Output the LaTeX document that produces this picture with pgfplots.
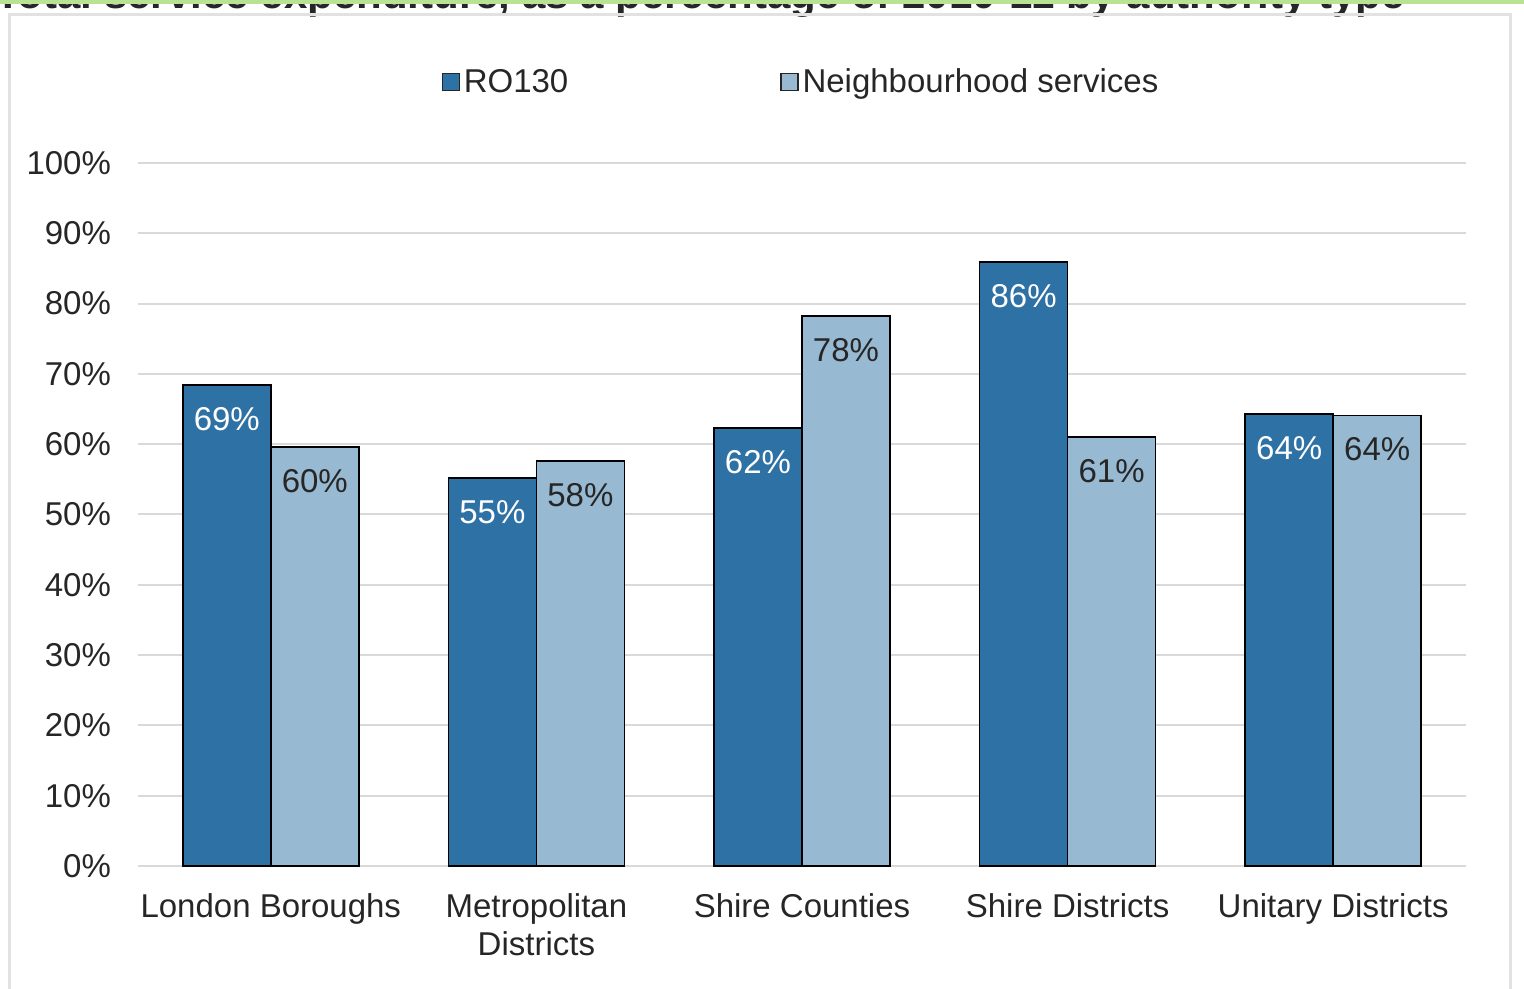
\documentclass[border=0pt]{standalone}
\usepackage{pgfplots}
\pgfplotsset{compat=1.18}
\usepackage{fontspec}
\setmainfont{Liberation Sans}
\definecolor{dblue}{RGB}{46,113,165}
\definecolor{lblue}{RGB}{151,185,210}
\definecolor{gridc}{RGB}{217,217,217}
\definecolor{framec}{RGB}{226,226,226}
\definecolor{txt}{RGB}{38,38,38}
\definecolor{topgreen}{RGB}{185,226,148}
\newcommand{\F}{\fontsize{16.5}{19}\selectfont}
\begin{document}
\begin{tikzpicture}
\path[use as bounding box] (-69pt,-61.5pt) rectangle (693pt,433pt);
\node[anchor=base west, font=\bfseries\fontsize{21}{24}\selectfont, text=txt, inner sep=0pt] at (-71.5pt,428.5pt) {Total service expenditure, as a percentage of 2010-11 by authority type};
\fill[topgreen] (-80pt,431pt) rectangle (700pt,440pt);
\draw[framec, line width=1.5pt] (-64pt,-70pt) -- (-64pt,425.5pt) -- (686pt,425.5pt) -- (686pt,-70pt);
\begin{axis}[
  at={(0,0)}, anchor=south west,
  scale only axis, width=664pt, height=351.5pt,
  ymin=0, ymax=100, xmin=-0.5, xmax=4.5,
  ytick={0,10,...,100},
  yticklabel={\pgfmathprintnumber[assume math mode=true]{\tick}\%},
  xtick={0,1,2,3,4},
  xticklabels={London Boroughs,{Metropolitan\\Districts},Shire Counties,Shire Districts,Unitary Districts},
  axis line style={draw=none},
  major tick length=0pt,
  ymajorgrids, grid style={gridc, line width=1pt},
  yticklabel style={font=\F, text=txt, xshift=-10pt},
  xticklabel style={font=\F, text=txt, align=center, yshift=-10.5pt},
  ybar=0pt, bar width=44pt,
  legend style={at={(0.5,1.115)}, anchor=center, draw=none, fill=none, font=\F, text=txt,
    legend columns=2, /tikz/every even column/.append style={column sep=104pt}},
  legend image code/.code={\draw[#1, draw=txt, line width=0.6pt] (0pt,-4.25pt) rectangle (8.5pt,4.25pt);},
  clip=false,
]
\addplot[fill=dblue, draw=black, line width=0.75pt, bar shift=-22pt,
  nodes near coords={\pgfplotspointmeta\%}, point meta=explicit symbolic,
  nodes near coords style={text=white, font=\F, anchor=center, yshift=-17pt}]
  table[meta=l] {
x y l
0 68.4 69
1 55.2 55
2 62.3 62
3 85.9 86
4 64.3 64
};
\addlegendentry{RO130}
\addplot[fill=lblue, draw=black, line width=0.75pt, bar shift=22pt,
  nodes near coords={\pgfplotspointmeta\%}, point meta=explicit symbolic,
  nodes near coords style={text=txt, font=\F, anchor=center, yshift=-17pt}]
  table[meta=l] {
x y l
0 59.6 60
1 57.6 58
2 78.2 78
3 61.0 61
4 64.1 64
};
\addlegendentry{Neighbourhood services}
\end{axis}
\end{tikzpicture}
\end{document}
